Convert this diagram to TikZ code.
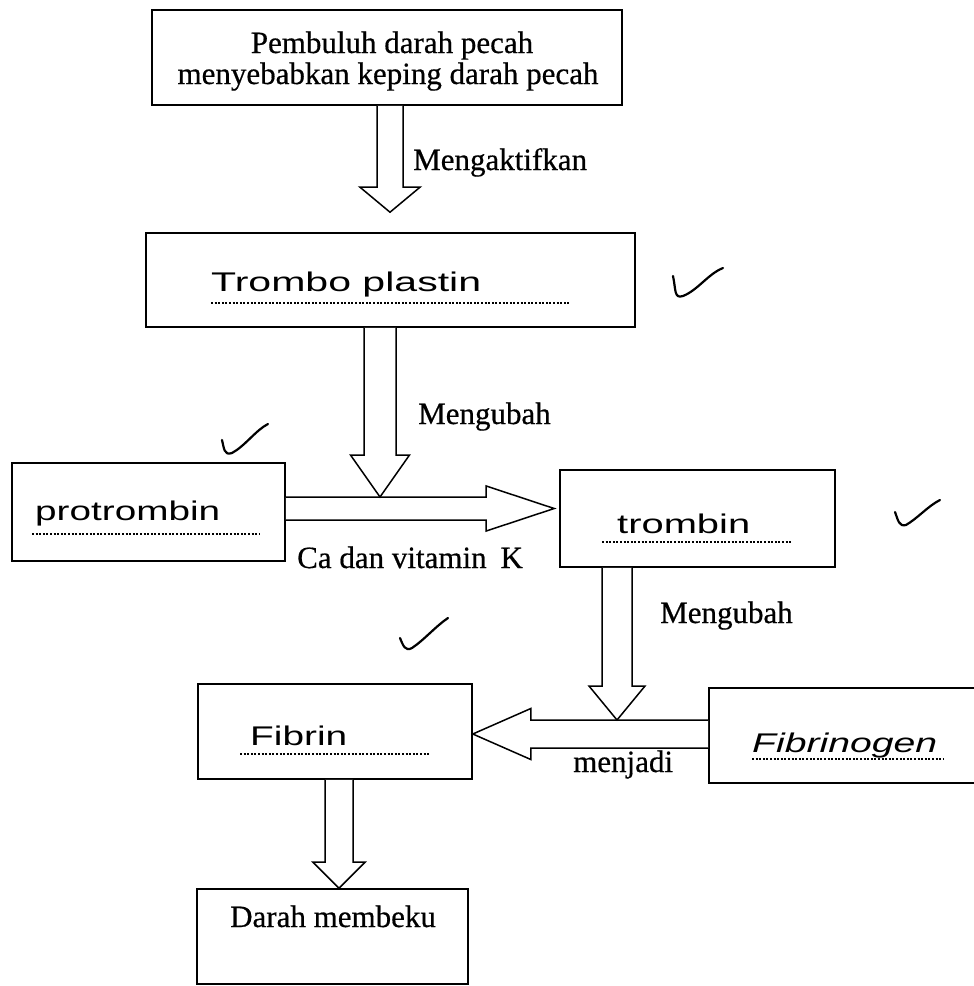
\documentclass[tikz,border=0pt]{standalone}
\usepackage{fontspec}
\setmainfont{Liberation Serif}
\newfontfamily\printfont[FakeBold=0.5]{Liberation Serif}
\newfontfamily\handfont{Liberation Sans}
\usetikzlibrary{calc}
\tikzset{
  box/.style={draw=black, line width=1.6pt, inner sep=0pt, fill=none},
  hollow/.style={draw=black, line width=1.5pt, fill=white, line join=miter},
  lbl/.style={font=\printfont\fontsize{31}{31}\selectfont, inner sep=0pt, anchor=base west},
  hand/.style={font=\handfont\fontsize{27}{27}\selectfont, inner sep=0pt, anchor=base west},
  dotline/.style={line width=2pt, dash pattern=on 2pt off 1.6pt},
  check/.style={line width=2.2pt, line cap=round, line join=round}
}
\newcommand\vhollow[5]{\draw[hollow] let \p1=#1, \p2=#2 in
  ({\x1-#3},{\y1}) -- ({\x1-#3},{\y2+#5}) -- ({\x1-#4},{\y2+#5}) -- ({\x1},{\y2}) --
  ({\x1+#4},{\y2+#5}) -- ({\x1+#3},{\y2+#5}) -- ({\x1+#3},{\y1});}
\newcommand\hhollow[5]{\draw[hollow] let \p1=#1, \p2=#2 in
  ({\x1},{\y1+#3}) -- ({\x2-#5},{\y1+#3}) -- ({\x2-#5},{\y1+#4}) -- ({\x2},{\y1}) --
  ({\x2-#5},{\y1-#4}) -- ({\x2-#5},{\y1-#3}) -- ({\x1},{\y1-#3});}
\newcommand\hw[2]{\resizebox{#1}{\height}{#2}}
\begin{document}
\begin{tikzpicture}[x=1pt,y=-1pt]
\clip (0,0) rectangle (974,986);
\fill[white] (0,0) rectangle (974,986);

% boxes
\node[box, minimum width=470pt, minimum height=95pt] (b1) at (387,57.5) {};
\node[box, minimum width=489pt, minimum height=94pt] (b2) at (390.5,280) {};
\node[box, minimum width=273pt, minimum height=98pt] (b3) at (148.5,512) {};
\node[box, minimum width=275pt, minimum height=97pt] (b4) at (697.5,518.5) {};
\node[box, minimum width=274pt, minimum height=95pt] (b5) at (335,731.5) {};
\node[box, minimum width=281pt, minimum height=95pt] (b6) at (849.5,735.5) {};
\node[box, minimum width=271pt, minimum height=95pt] (b7) at (332.5,936.5) {};

% box texts
\node[lbl, anchor=base] (t1a) at (392,53) {Pembuluh darah pecah};
\node[lbl, anchor=base] (t1b) at (388,84) {menyebabkan keping darah pecah};
\node[hand] (t2) at (211,291) {\hw{270pt}{Trombo plastin}};
\node[hand] (t3) at (35,520) {\hw{185pt}{protrombin}};
\node[hand] (t4) at (617,533) {\hw{133pt}{trombin}};
\node[hand] (t5) at (250,745) {\hw{97pt}{Fibrin}};
\node[hand] (t6) at (752,752) {\hw{185pt}{\itshape Fibrinogen}};
\node[lbl] (t7) at (230,927) {Darah membeku};

% dotted underlines
\draw[dotline] (211,303) -- (569,303);
\draw[dotline] (32,534) -- (260,534);
\draw[dotline] (602,542) -- (792,542);
\draw[dotline] (240,754) -- (430,754);
\draw[dotline] (752,759) -- (943,759);

% arrow axis helpers
\coordinate (c1) at (390,0);
\coordinate (c2) at (380,0);
\coordinate (c3) at (617,0);
\coordinate (c4) at (339,0);
\coordinate (h1) at (0,508.5);
\coordinate (h2) at (0,734);

% horizontal arrows
\hhollow{(b3.east |- h1)}{($(b4.west |- h1)+(-5,0)$)}{11.5pt}{22.5pt}{68pt}
\hhollow{(b6.west |- h2)}{(b5.east |- h2)}{14pt}{25.5pt}{(-58pt)}

% vertical arrows
\vhollow{(b1.south -| c1)}{($(b2.north -| c1)+(0,-20)$)}{13pt}{30pt}{25pt}
\vhollow{(b2.south -| c2)}{($(c2 |- h1)+(0,-11.5)$)}{16pt}{29.5pt}{42pt}
\vhollow{(b4.south -| c3)}{($(c3 |- h2)+(0,-14)$)}{15pt}{28pt}{34pt}
\vhollow{(b5.south -| c4)}{(b7.north -| c4)}{14pt}{26pt}{26pt}

% labels
\node[lbl] (l1) at (413,170) {Mengaktifkan};
\node[lbl] (l2) at (418,424) {Mengubah};
\node[lbl] (l3) at (297,568) {Ca dan vitamin\hspace{0.45em}K};
\node[lbl] (l4) at (660,623) {Mengubah};
\node[lbl] (l5) at (573,772) {menjadi};

% check marks
\draw[check] (673,276) .. controls (676,290) and (674,299) .. (683,296) .. controls (698,290) and (708,274) .. (723,268);
\draw[check] (222,440) .. controls (224,448) and (224,456) .. (232,453) .. controls (245,446) and (256,430) .. (268,424);
\draw[check] (895,512) .. controls (898,520) and (899,527) .. (906,525) .. controls (918,518) and (928,506) .. (940,500);
\draw[check] (400,638) .. controls (403,645) and (405,652) .. (412,648) .. controls (424,640) and (436,626) .. (448,618);
\end{tikzpicture}
\end{document}
